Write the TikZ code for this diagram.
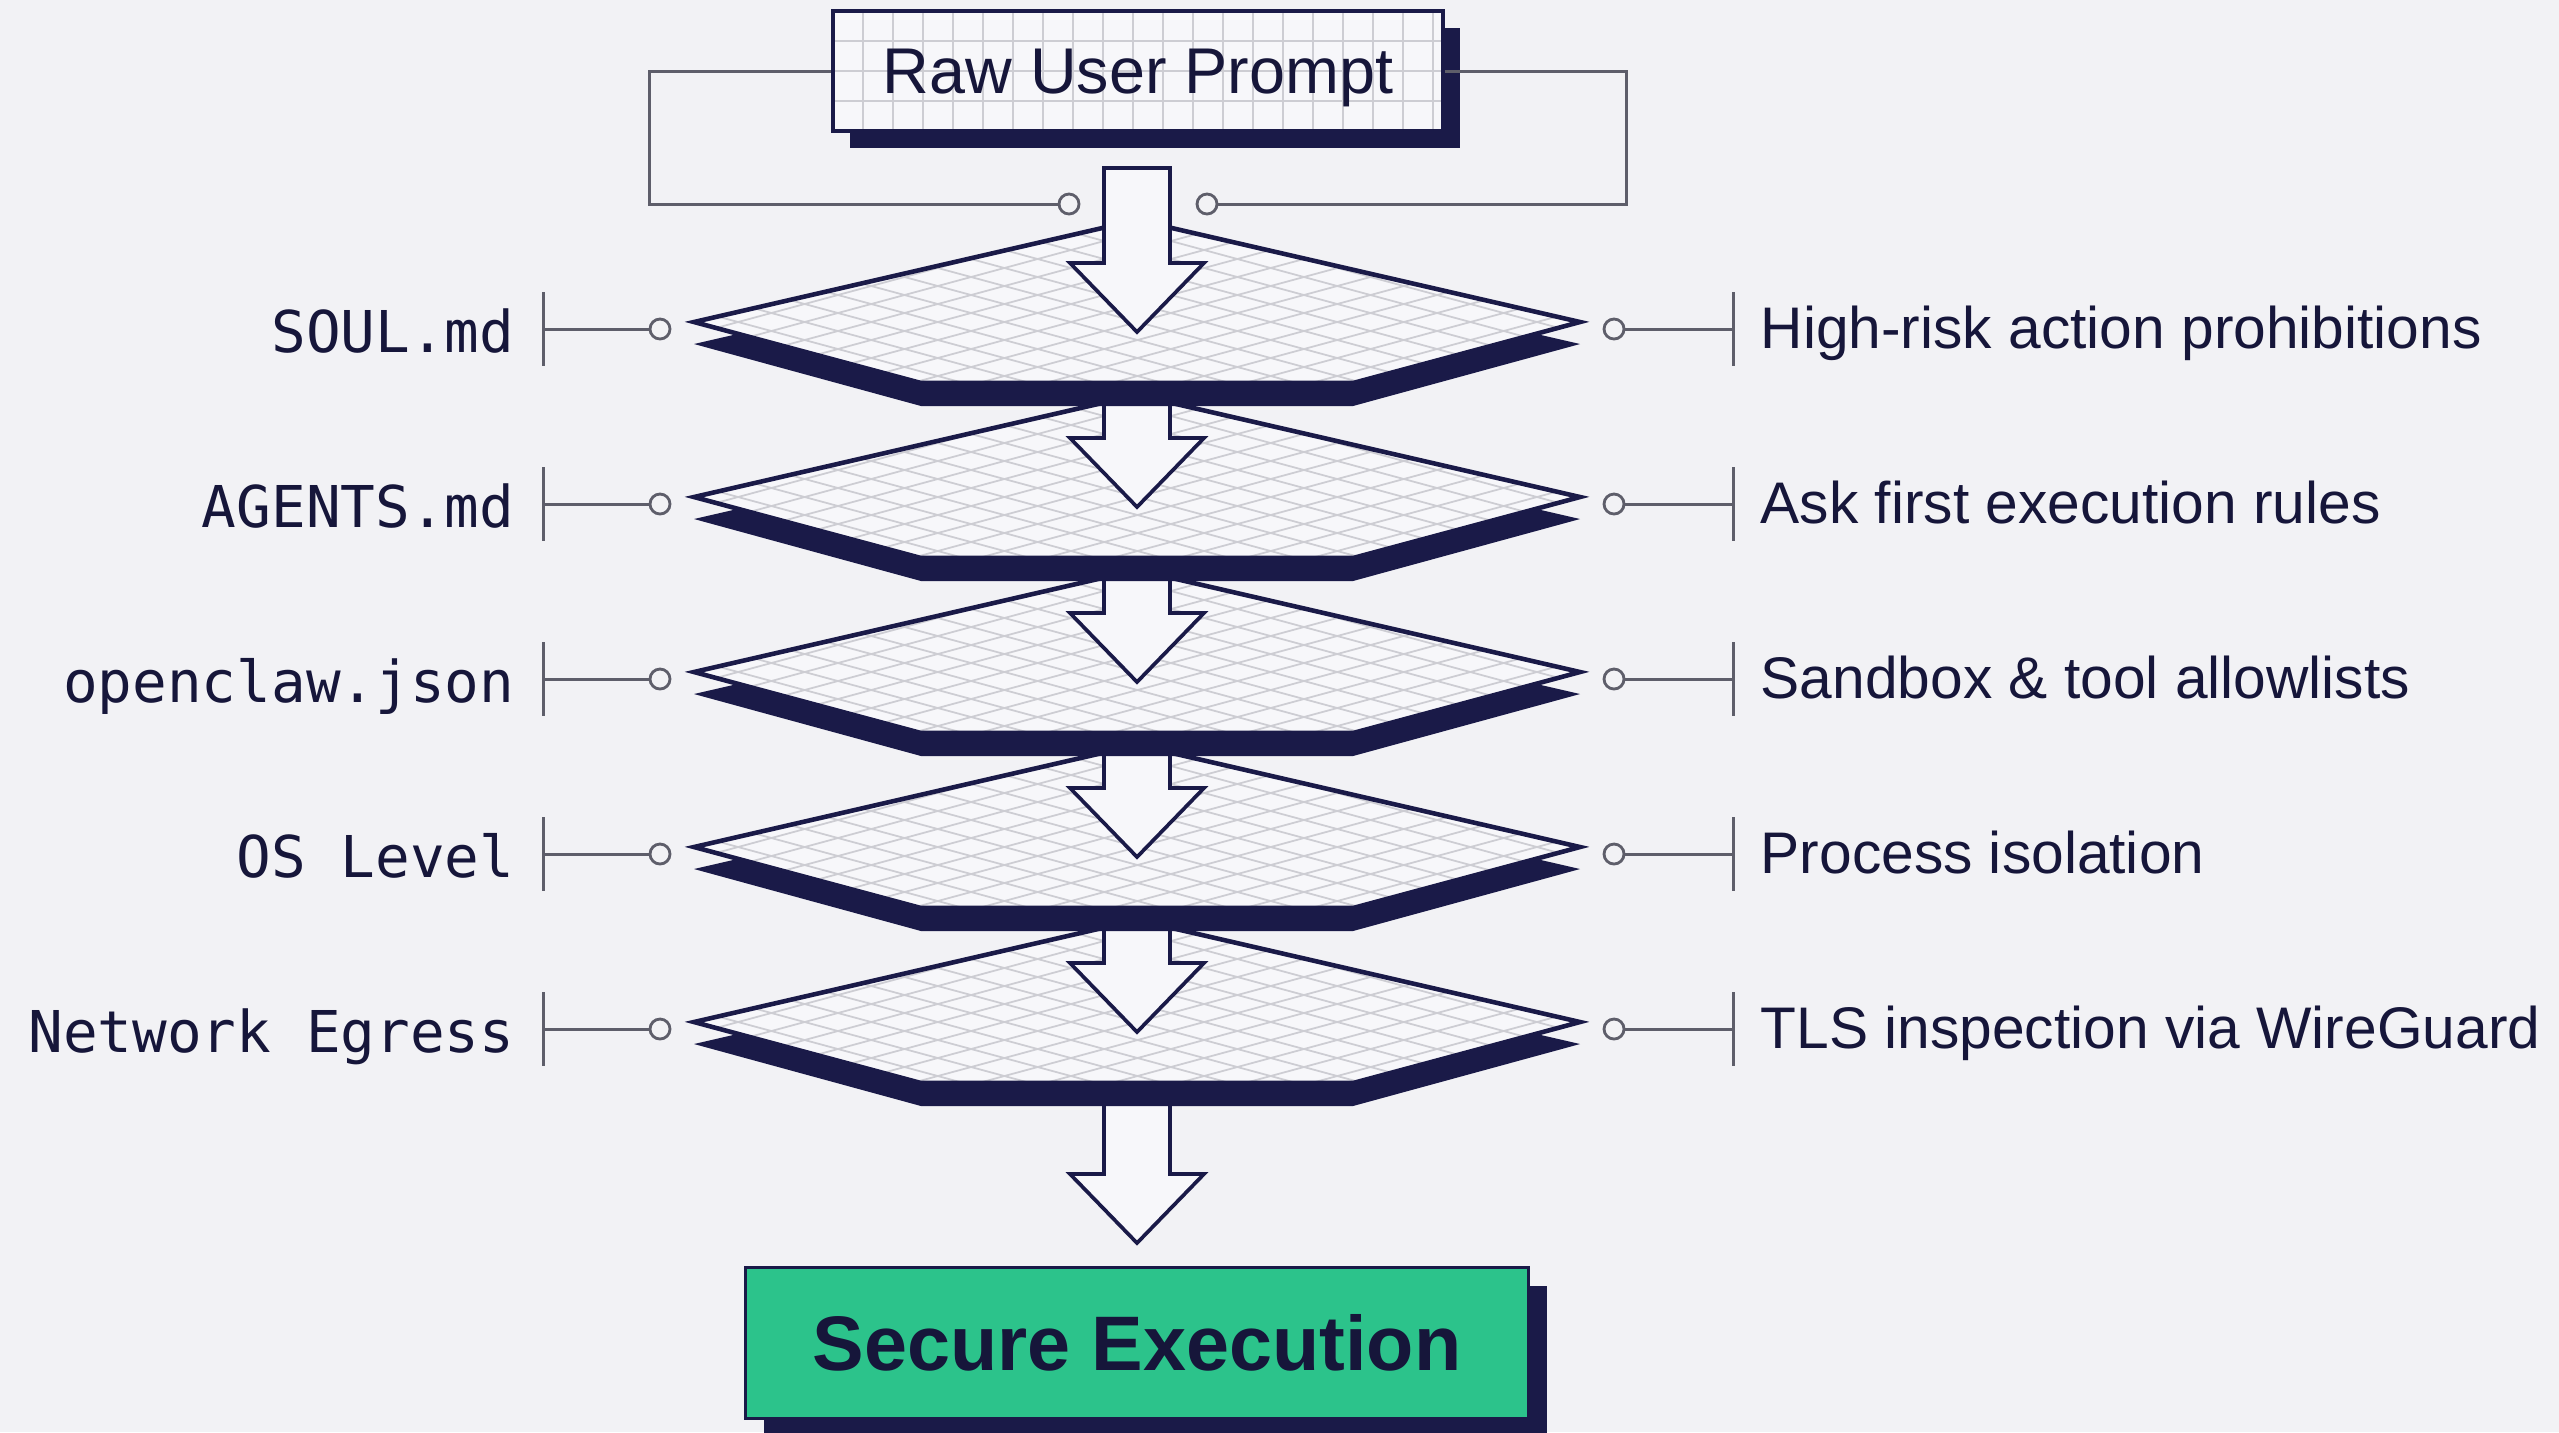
\documentclass[tikz,border=0pt]{standalone}
\usepackage{fontspec}
\setmainfont{Liberation Sans}
\newfontfamily\monofont{DejaVu Sans Mono}
\usepackage{tikz}
\usetikzlibrary{calc,shadows}

\definecolor{bg}{HTML}{F2F2F5}
\definecolor{navy}{HTML}{1A1A48}
\definecolor{ink}{HTML}{16163A}
\definecolor{wirec}{HTML}{5E5E6A}
\definecolor{meshc}{HTML}{CDCDD3}
\definecolor{sheet}{HTML}{F7F7FA}
\definecolor{okgreen}{HTML}{2CC38B}

% one filter layer, #1 = y of its side corners
\newcommand{\layerplate}[1]{%
  \fill[navy] (694,#1+22) -- (1137,#1-80) -- (1580,#1+22) -- (1353,#1+84) -- (921,#1+84) -- cycle;
  \begin{scope}
    \clip (694,#1) -- (1137,#1-102) -- (1580,#1) -- (1353,#1+61) -- (921,#1+61) -- cycle;
    \fill[sheet] (680,#1-110) rectangle (1600,#1+70);
    \foreach \k in {-13,...,11} {
      \draw[mesh] (690,#1+\k*18-121) -- (1585,#1+\k*18+121);
      \draw[mesh] (690,#1+\k*18+121) -- (1585,#1+\k*18-121);
    }
  \end{scope}
  \draw[plateline] (694,#1) -- (1137,#1-102) -- (1580,#1) -- (1353,#1+61) -- (921,#1+61) -- cycle;
}
% hollow down arrow, #1 = top, #2 = tip
\newcommand{\flowarrow}[2]{%
  \filldraw[arrowbody] (1104,#1) -- (1104,#2-69) -- (1070,#2-69) -- (1137,#2)
    -- (1204,#2-69) -- (1170,#2-69) -- (1170,#1) -- cycle;
}

\begin{document}
\begin{tikzpicture}[
    x=0.1mm, y=-0.1mm,
    mesh/.style={draw=meshc, line width=0.5pt},
    plateline/.style={draw=navy, line width=1.3pt, line join=miter},
    arrowbody/.style={draw=navy, fill=sheet, line width=1.05pt, line join=miter},
    wire/.style={draw=wirec, line width=0.85pt},
    jack/.style={circle, draw=wirec, fill=bg, line width=0.8pt, minimum size=2mm, inner sep=0pt},
    filetxt/.style={text=ink, font=\monofont\fontsize{16.4}{19}\selectfont, inner sep=0pt},
    ruletxt/.style={text=ink, font=\fontsize{16.7}{19}\selectfont, inner sep=0pt},
    boxgrid/.style={draw=meshc, line width=0.45pt},
    promptbox/.style={rectangle, draw=navy, fill=sheet, line width=1.15pt, minimum width=61mm, minimum height=12mm,
        inner sep=0pt, text depth=0pt, text=ink, font=\fontsize{18.4}{21}\selectfont,
        drop shadow={shadow xshift=1.7mm, shadow yshift=-1.7mm, fill=navy, opacity=1}},
    resultbox/.style={rectangle, draw=navy, fill=okgreen, line width=1pt, minimum width=78.3mm, minimum height=15.1mm,
        inner sep=0pt, text=ink, font=\bfseries\fontsize{22}{26}\selectfont,
        drop shadow={shadow xshift=1.8mm, shadow yshift=-1.8mm, fill=navy, opacity=1}}
]
\fill[bg] (0,0) rectangle (2559,1432);
\useasboundingbox (0,0) rectangle (2559,1432);
\clip (0,0) rectangle (2559,1432);

% input box and its bracket
\node[promptbox, path picture={
    \foreach \gx in {1,...,20} {\draw[boxgrid] ($(path picture bounding box.north west)+(\gx*30,0)$) -- ++(0,130);}
    \foreach \gy in {1,2,3} {\draw[boxgrid] ($(path picture bounding box.north west)+(0,\gy*30)$) -- ++(620,0);}
  }] (prompt) at (1138,71) {Raw User Prompt};
\coordinate (bl) at (649,204);
\coordinate (br) at (1626,204);
\node[jack] (bjl) at (1069,204) {};
\node[jack] (bjr) at (1207,204) {};
\draw[wire] (prompt.west) -| (bl) -- (bjl);
\draw[wire] (prompt.east) -| (br) -- (bjr);

% stack of layers, drawn bottom up
\flowarrow{1022}{1243}
\foreach \v/\t in {1022/847,847/672,672/497,497/322,322/168} {
  \layerplate{\v}
  \flowarrow{\t}{\v+10}
}

% side labels
\foreach \i/\y/\f/\r in {1/329/SOUL.md/High-risk action prohibitions,
    2/504/AGENTS.md/Ask first execution rules,
    3/679/openclaw.json/Sandbox \& tool allowlists,
    4/854/OS Level/Process isolation,
    5/1029/Network Egress/TLS inspection via WireGuard} {
  \node[filetxt, anchor=base east] (f\i) at (515,\y+23) {\f};
  \coordinate (lt\i) at (543,\y);
  \node[jack] (lj\i) at (660,\y) {};
  \draw[wire] (lt\i) -- (lj\i);
  \draw[wire] ($(lt\i)+(0,-37)$) -- ($(lt\i)+(0,37)$);
  \node[ruletxt, anchor=base west] (r\i) at (1760,\y+19) {\r};
  \coordinate (rt\i) at (1733,\y);
  \node[jack] (rj\i) at (1614,\y) {};
  \draw[wire] (rj\i) -- (rt\i);
  \draw[wire] ($(rt\i)+(0,-37)$) -- ($(rt\i)+(0,37)$);
}

% result
\node[resultbox] (secure) at (1137,1343) {Secure Execution};
\end{tikzpicture}
\end{document}
